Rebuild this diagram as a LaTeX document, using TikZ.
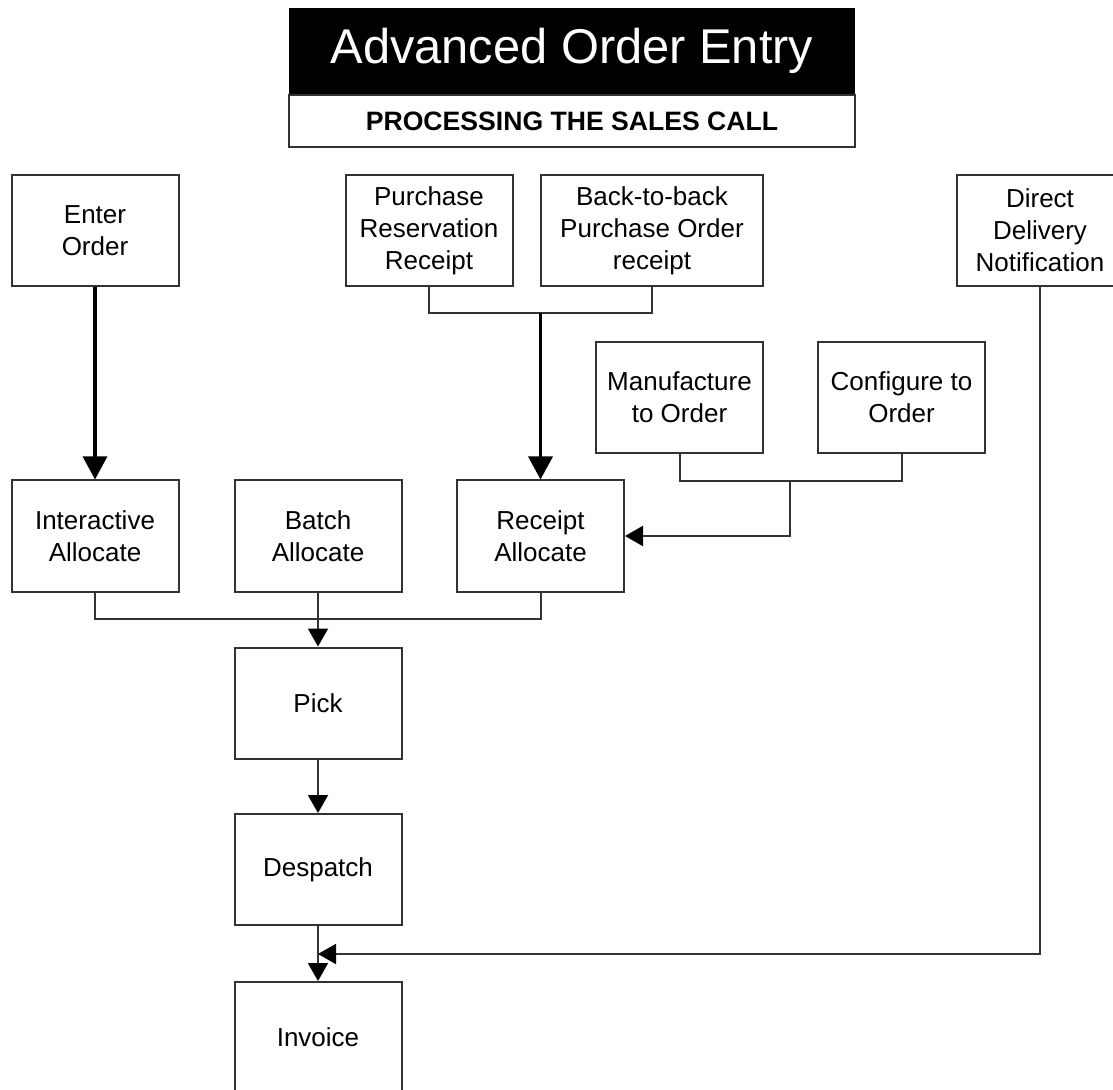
\documentclass[tikz,border=0pt]{standalone}
\usepackage{fontspec}
\setmainfont{Liberation Sans}
\usetikzlibrary{arrows.meta, positioning, calc}
\definecolor{oeline}{HTML}{333333}

\begin{document}
\begin{tikzpicture}[
  x=0.5pt, y=-0.5pt,
  every node/.style={font=\fontsize{13}{16}\selectfont},
  stepnode/.style={rectangle, draw=oeline, line width=1pt, fill=white, minimum width=83.5pt, minimum height=55.5pt, align=center, inner sep=2pt},
  widenode/.style={stepnode, minimum width=111pt},
  flowline/.style={draw=oeline, line width=1pt},
  flowarrow/.style={flowline, -{Triangle[length=9pt, width=10pt, fill=black, color=black]}},
  mainarrow/.style={draw=black, line width=1.6pt, -{Triangle[length=11.5pt, width=12pt]}},
]
\useasboundingbox (0,0) rectangle (1113,1090);
\clip (0,0) rectangle (1113,1090);

% Heading
\node[fill=black, minimum width=283pt, minimum height=43pt, inner sep=0pt, text=white, font=\fontsize{24.4}{28}\selectfont] (titlebar) at (572,51) {Advanced Order Entry};
\node[draw=oeline, line width=0.8pt, fill=white, minimum width=283pt, minimum height=26pt, inner sep=0pt, below=0pt of titlebar, font=\bfseries\fontsize{13.3}{16}\selectfont] (subtitle) {PROCESSING THE SALES CALL};

% Top row: order sources
\node[stepnode] (enter) at (95,230.5) {Enter\\Order};
\node[stepnode] (purres) at (429,230.5) {Purchase\\Reservation\\Receipt};
\node[widenode] (b2b) at (652,230.5) {Back-to-back\\Purchase Order\\receipt};
\node[stepnode] (direct) at (1040,230.5) {Direct\\Delivery\\Notification};

% Works orders
\node[stepnode] (mto) at (679.5,397.5) {Manufacture\\to Order};
\node[stepnode] (cto) at (901.5,397.5) {Configure to\\Order};

% Allocation
\node[stepnode] (interalloc) at (95,536) {Interactive\\Allocate};
\node[stepnode] (batchalloc) at (318,536) {Batch\\Allocate};
\node[stepnode] (rcptalloc) at (540.5,536) {Receipt\\Allocate};

% Fulfilment
\node[stepnode] (pick) at (318,703) {Pick};
\node[stepnode] (despatch) at (318,869.5) {Despatch};
\node[stepnode] (invoice) at (318,1037.5) {Invoice};

% Join points
\coordinate (purjoin) at (540.5,313);
\coordinate (mfgjoin) at (790,481);
\coordinate (allocjoin) at (318,619);
\coordinate (invjoin) at (318,954);

\draw[mainarrow] (enter) -- (interalloc);
\draw[flowline] (purres.south) |- (purjoin) -| (b2b.south);
\draw[mainarrow] (purjoin) -- (rcptalloc.north);
\draw[flowline] (mto.south) |- (mfgjoin) -| (cto.south);
\draw[flowarrow] (mfgjoin) |- (rcptalloc.east);
\draw[flowline] (interalloc.south) |- (allocjoin) -| (rcptalloc.south);
\draw[flowarrow] (batchalloc.south) -- (pick.north);
\draw[flowarrow] (pick) -- (despatch);
\draw[flowarrow] (despatch) -- (invoice);
\draw[flowarrow] (direct.south) |- (invjoin);

\end{tikzpicture}
\end{document}
